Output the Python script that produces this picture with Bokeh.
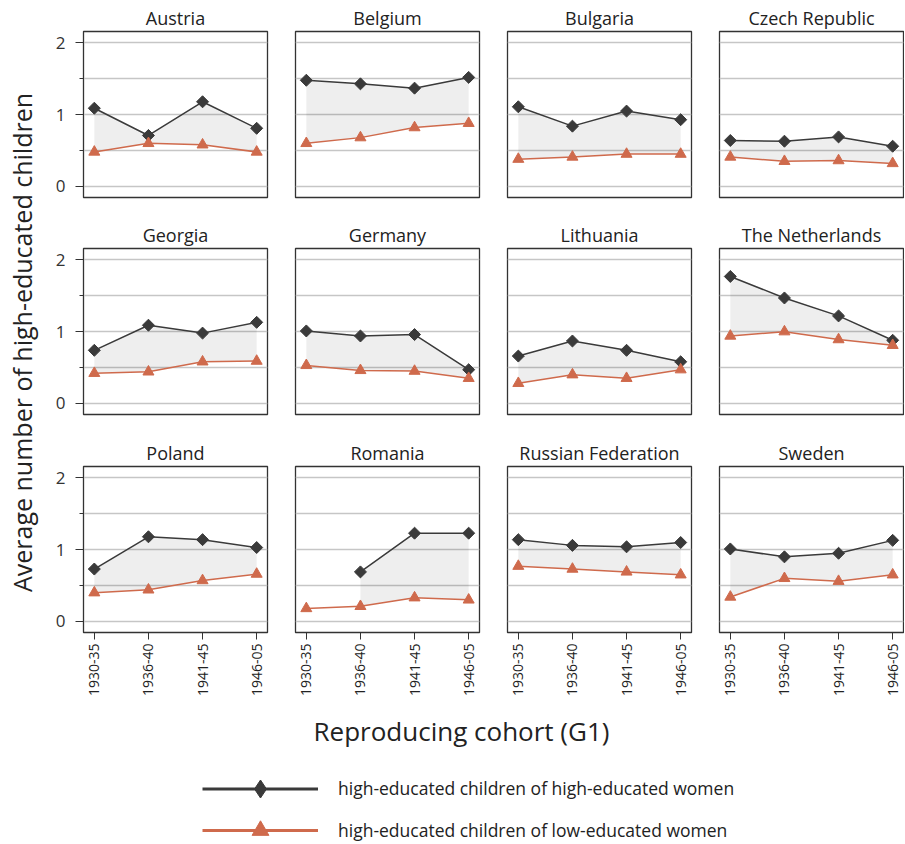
import math
import numpy as np
from bokeh.plotting import figure
from bokeh.layouts import gridplot, column, row
from bokeh.models import Range1d, FixedTicker, Label, Legend, LegendItem
from bokeh.embed import file_html
from bokeh.resources import INLINE

nan = float("nan")

countries = ["Austria", "Belgium", "Bulgaria", "Czech Republic",
             "Georgia", "Germany", "Lithuania", "The Netherlands",
             "Poland", "Romania", "Russian Federation", "Sweden"]
cohorts = ["1930-35", "1936-40", "1941-45", "1946-05"]

# high-educated children of high-educated women
high_of_high = [
    [1.09, 0.71, 1.18, 0.81],
    [1.48, 1.43, 1.37, 1.52],
    [1.11, 0.84, 1.05, 0.93],
    [0.64, 0.63, 0.69, 0.56],
    [0.74, 1.09, 0.98, 1.13],
    [1.01, 0.94, 0.96, 0.47],
    [0.66, 0.87, 0.74, 0.58],
    [1.77, 1.47, 1.22, 0.88],
    [0.73, 1.18, 1.14, 1.03],
    [nan, 0.69, 1.23, 1.23],
    [1.14, 1.06, 1.04, 1.10],
    [1.01, 0.90, 0.95, 1.13],
]
# high-educated children of low-educated women
high_of_low = [
    [0.48, 0.60, 0.58, 0.48],
    [0.60, 0.68, 0.82, 0.88],
    [0.38, 0.41, 0.45, 0.45],
    [0.41, 0.35, 0.36, 0.32],
    [0.42, 0.44, 0.58, 0.59],
    [0.53, 0.46, 0.45, 0.35],
    [0.28, 0.40, 0.35, 0.47],
    [0.94, 1.00, 0.89, 0.81],
    [0.40, 0.44, 0.57, 0.66],
    [0.18, 0.21, 0.33, 0.30],
    [0.77, 0.73, 0.69, 0.65],
    [0.34, 0.60, 0.56, 0.65],
]
y_major_ticks = [0, 1, 2]
y_minor_ticks = [0.5, 1.5]
y_grid_ticks = [0, 0.5, 1, 1.5, 2]

series_labels = ["high-educated children of high-educated women",
                 "high-educated children of low-educated women"]
y_title = "Average number of high-educated children"
x_title = "Reproducing cohort (G1)"

FONT = "Open Sans"
DARK = "#3a3a3a"
ORANGE = "#cf6a4c"
TEXT = "#222222"
GRID = "#c6c6c6"

FW, FH = 184, 166
TOPS = [31, 31, 32]
BOTTOMS = [20, 20, 70]


def make_panel(i):
    r, c = divmod(i, 4)
    left = 35 if c == 0 else 12
    right = 1 if c == 3 else 16
    top = TOPS[r]
    bottom = BOTTOMS[r]
    p = figure(width=left + FW + right, height=top + FH + bottom,
               x_range=Range1d(-0.2, 3.2), y_range=Range1d(-0.155, 2.16),
               output_backend="svg", toolbar_location=None,
               min_border_left=left, min_border_right=right,
               min_border_top=top, min_border_bottom=bottom,
               background_fill_color="white", border_fill_color="white")
    p.title.text = countries[i]
    p.title.align = "center"
    p.title.text_font = FONT
    p.title.text_font_size = "18px"
    p.title.text_font_style = "normal"
    p.title.text_color = TEXT
    p.title.standoff = 4
    p.outline_line_color = "#333333"
    p.outline_line_width = 1.3

    p.xgrid.visible = False
    p.ygrid.ticker = FixedTicker(ticks=y_grid_ticks)
    p.ygrid.grid_line_color = GRID
    p.ygrid.grid_line_width = 1.3

    if c == 0:
        ax = p.yaxis[0]
        ax.ticker = FixedTicker(ticks=y_major_ticks, minor_ticks=y_minor_ticks)
        ax.major_tick_out = 8
        ax.major_tick_in = 0
        ax.minor_tick_out = 4
        ax.minor_tick_in = 0
        ax.axis_line_color = "#333333"
        ax.major_tick_line_color = "#333333"
        ax.minor_tick_line_color = "#333333"
        ax.major_label_text_font = FONT
        ax.major_label_text_font_size = "17px"
        ax.major_label_text_color = "#333333"
        ax.major_label_standoff = 10
    else:
        p.yaxis.visible = False

    if r == 2:
        ax = p.xaxis[0]
        ax.ticker = FixedTicker(ticks=[0, 1, 2, 3])
        ax.major_label_overrides = {k: cohorts[k] for k in range(4)}
        ax.major_label_orientation = math.pi / 2
        ax.major_tick_out = 7
        ax.major_tick_in = 0
        ax.minor_tick_line_color = None
        ax.axis_line_color = "#333333"
        ax.major_tick_line_color = "#333333"
        ax.major_label_text_font = FONT
        ax.major_label_text_font_size = "14px"
        ax.major_label_text_color = TEXT
        ax.major_label_standoff = 4
    else:
        p.xaxis.visible = False

    xs = np.arange(len(cohorts), dtype=float)
    hi = np.array(high_of_high[i], dtype=float)
    lo = np.array(high_of_low[i], dtype=float)
    ok = ~np.isnan(hi) & ~np.isnan(lo)
    p.varea(x=xs[ok], y1=lo[ok], y2=hi[ok], fill_color="black", fill_alpha=0.065)
    p.line(xs, hi, line_color=DARK, line_width=1.5)
    p.scatter(xs, hi, marker="square", angle=math.pi / 4, size=8.5,
              fill_color=DARK, line_color=DARK)
    p.line(xs, lo, line_color=ORANGE, line_width=1.5)
    p.scatter(xs, lo, marker="triangle", size=11,
              fill_color=ORANGE, line_color=ORANGE)
    return p


panels = [make_panel(i) for i in range(12)]
grid = gridplot(panels, ncols=4, toolbar_location=None)

GRID_H = sum(TOPS) + 3 * FH + sum(BOTTOMS)

# y-axis title
ylab = figure(width=48, height=GRID_H, x_range=Range1d(0, 1), y_range=Range1d(0, 1),
              x_axis_type=None, y_axis_type=None, output_backend="svg",
              toolbar_location=None, min_border=0, outline_line_color=None)
ylab.grid.visible = False
ylab.add_layout(Label(x=21, y=GRID_H - 342, x_units="screen", y_units="screen",
                      text=y_title, angle=math.pi / 2, text_align="center",
                      text_baseline="middle", text_font=FONT,
                      text_font_size="25px", text_color=TEXT))

# bottom: x title + legend
BH = 844 - GRID_H
bot = figure(width=904, height=BH, x_range=Range1d(0, 1), y_range=Range1d(0, 1),
             x_axis_type=None, y_axis_type=None, output_backend="svg",
             toolbar_location=None, min_border=0, outline_line_color=None)
bot.grid.visible = False
bot.add_layout(Label(x=461, y=844 - 730, x_units="screen", y_units="screen",
                     text=x_title, text_align="center", text_baseline="middle",
                     text_font=FONT, text_font_size="26px", text_color=TEXT))

# legend sample renderers (no visible data points)
l1 = bot.line([nan], [nan], line_color=DARK, line_width=3)
m1 = bot.scatter([nan], [nan], marker="diamond", size=18,
                 fill_color=DARK, line_color=DARK)
l2 = bot.line([nan], [nan], line_color=ORANGE, line_width=3)
m2 = bot.scatter([nan], [nan], marker="triangle", size=17,
                 fill_color=ORANGE, line_color=ORANGE)


def make_legend(label, renderers, gh, cy):
    lg = Legend(items=[LegendItem(label=label, renderers=renderers)],
                location=(202, 844 - cy - gh / 2),
                glyph_width=116, glyph_height=gh, label_standoff=20,
                padding=0, margin=0, spacing=0,
                border_line_color=None, background_fill_alpha=0,
                label_text_font=FONT, label_text_font_size="17.5px",
                label_text_color=TEXT)
    bot.add_layout(lg)


make_legend(series_labels[0], [l1, m1], 45, 788)
make_legend(series_labels[1], [l2, m2], 42, 830)

layout = column(row(ylab, grid), bot)
open("out.html", "w").write(file_html(layout, INLINE))
